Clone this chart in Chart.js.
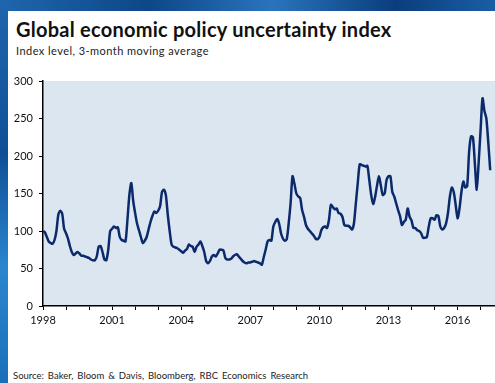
<!DOCTYPE html>
<html>
<head>
<meta charset="utf-8">
<script src="https://cdn.jsdelivr.net/npm/chart.js@4"></script>
<style>
  html, body { margin: 0; padding: 0; }
  body { width: 495px; height: 383px; position: relative; overflow: hidden; font-family: Lato, "Liberation Sans", sans-serif; background: #fff; }
  .frame-top { position: absolute; left: 0; top: 0; width: 495px; height: 11px;
    background: linear-gradient(90deg, #1f66ad 0%, #0d4788 30%, #2a74bd 55%, #0b3d7c 80%, #1a5ea6 100%); }
  .frame-left { position: absolute; left: 0; top: 0; width: 8px; height: 383px;
    background: linear-gradient(180deg, #1f66ad 0%, #0f4f96 40%, #2b86cf 70%, #1b6fb8 100%); }
  .title { position: absolute; left: 16px; top: 20px; font-size: 20px; letter-spacing: 0.25px; font-weight: bold; color: #111; line-height: 19px; white-space: nowrap; }
  .subtitle { position: absolute; left: 16px; top: 45px; font-size: 11px; letter-spacing: 0.45px; color: #222; line-height: 11px; white-space: nowrap; }
  .source { position: absolute; left: 13px; top: 371px; font-size: 9.5px; color: #222; line-height: 10px; white-space: nowrap; word-spacing: 1.5px; }
  #wrap { position: absolute; left: 0; top: 0; width: 495px; height: 383px; }
</style>
</head>
<body>
<div class="frame-top"></div>
<div class="frame-left"></div>
<div class="title">Global economic policy uncertainty index</div>
<div class="subtitle">Index level, 3-month moving average</div>
<div class="source">Source: Baker, Bloom &amp; Davis, Bloomberg, RBC Economics Research</div>
<div id="wrap"><canvas id="myChart"></canvas></div>
<script>
var startYear = 1998;
var yearLabels = ['1998', '2001', '2004', '2007', '2010', '2013', '2016'];
var yTicks = [0, 50, 100, 150, 200, 250, 300];

// monthly index values, 3-month moving average, Jan 1998 - Jun 2017
var y1998 = [100, 98, 92, 86, 84, 83, 88, 100, 122, 127, 123, 103];
var y1999 = [97, 90, 80, 72, 68, 70, 72, 70, 67, 67, 66, 65];
var y2000 = [64, 62, 61, 61, 66, 79, 80, 72, 62, 61, 75, 100];
var y2001 = [103, 106, 104, 105, 92, 88, 87, 86, 115, 148, 164, 140];
var y2002 = [124, 110, 101, 92, 84, 87, 92, 102, 112, 120, 126, 124];
var y2003 = [127, 133, 152, 155, 148, 122, 100, 82, 79, 78, 77, 75];
var y2004 = [73, 71, 74, 76, 82, 80, 79, 72, 79, 82, 86, 80];
var y2005 = [72, 60, 57, 60, 66, 68, 66, 70, 75, 75, 74, 64];
var y2006 = [62, 62, 63, 66, 68, 69, 66, 63, 60, 58, 57, 58];
var y2007 = [58, 59, 60, 59, 58, 57, 55, 65, 75, 86, 88, 87];
var y2008 = [106, 112, 116, 110, 97, 90, 87, 89, 110, 137, 173, 163];
var y2009 = [150, 146, 144, 128, 119, 108, 103, 100, 97, 94, 90, 89];
var y2010 = [92, 101, 105, 106, 104, 115, 135, 132, 129, 130, 124, 123];
var y2011 = [119, 108, 107, 107, 105, 102, 110, 137, 164, 189, 188, 187];
var y2012 = [186, 187, 168, 148, 136, 145, 160, 173, 161, 148, 150, 168];
var y2013 = [173, 173, 152, 146, 137, 128, 120, 108, 112, 115, 130, 119];
var y2014 = [114, 104, 104, 101, 100, 97, 91, 91, 92, 106, 117, 117];
var y2015 = [115, 121, 120, 106, 102, 104, 110, 124, 146, 158, 152, 135];
var y2016 = [117, 130, 152, 166, 158, 160, 205, 226, 225, 190, 155, 192];
var y2017 = [235, 277, 260, 250, 218, 181];

var values = [].concat(y1998, y1999, y2000, y2001, y2002, y2003, y2004, y2005, y2006,
  y2007, y2008, y2009, y2010, y2011, y2012, y2013, y2014, y2015, y2016, y2017);

var points = values.map(function (v, i) { return { x: i, y: v }; });

var plotBg = {
  id: 'plotBg',
  beforeDraw: function (chart) {
    var a = chart.chartArea, c = chart.ctx;
    c.save();
    c.fillStyle = '#dce6f1';
    c.fillRect(a.left, a.top, a.right - a.left, a.bottom - a.top);
    c.restore();
  }
};

var ctx = document.getElementById('myChart').getContext('2d');
var myChart = new Chart(ctx, {
  type: 'line',
  data: {
    datasets: [{
      label: 'Global EPU',
      data: points,
      borderColor: '#0b2a6b',
      borderWidth: 2.5,
      pointRadius: 0,
      tension: 0.25,
      fill: false
    }]
  },
  options: {
    responsive: true,
    maintainAspectRatio: false,
    animation: false,
    layout: { padding: { top: 81, left: 0, right: 0, bottom: 0 } },
    plugins: {
      legend: { display: false },
      tooltip: { enabled: false }
    },
    scales: {
      x: {
        type: 'linear',
        min: 0,
        max: 235.5,
        afterFit: function (s) { s.height = 77; },
        border: { color: '#000', width: 1.5 },
        grid: { drawOnChartArea: false, drawTicks: true, tickLength: 4, color: '#000', lineWidth: 1 },
        ticks: {
          stepSize: 12,
          includeBounds: false,
          autoSkip: false,
          maxRotation: 0,
          padding: 4,
          color: '#111',
          font: { family: 'Lato', size: 11 },
          callback: function (v) {
            return v % 36 === 0 ? yearLabels[v / 36] : '';
          }
        }
      },
      y: {
        min: yTicks[0],
        max: yTicks[yTicks.length - 1],
        afterFit: function (s) { s.width = 43; },
        border: { color: '#000', width: 1.5 },
        grid: { drawOnChartArea: false, drawTicks: true, tickLength: 4, color: '#000', lineWidth: 1 },
        ticks: {
          stepSize: 50,
          padding: 6,
          color: '#111',
          font: { family: 'Lato', size: 11 }
        }
      }
    }
  },
  plugins: [plotBg]
});
</script>
</body>
</html>
